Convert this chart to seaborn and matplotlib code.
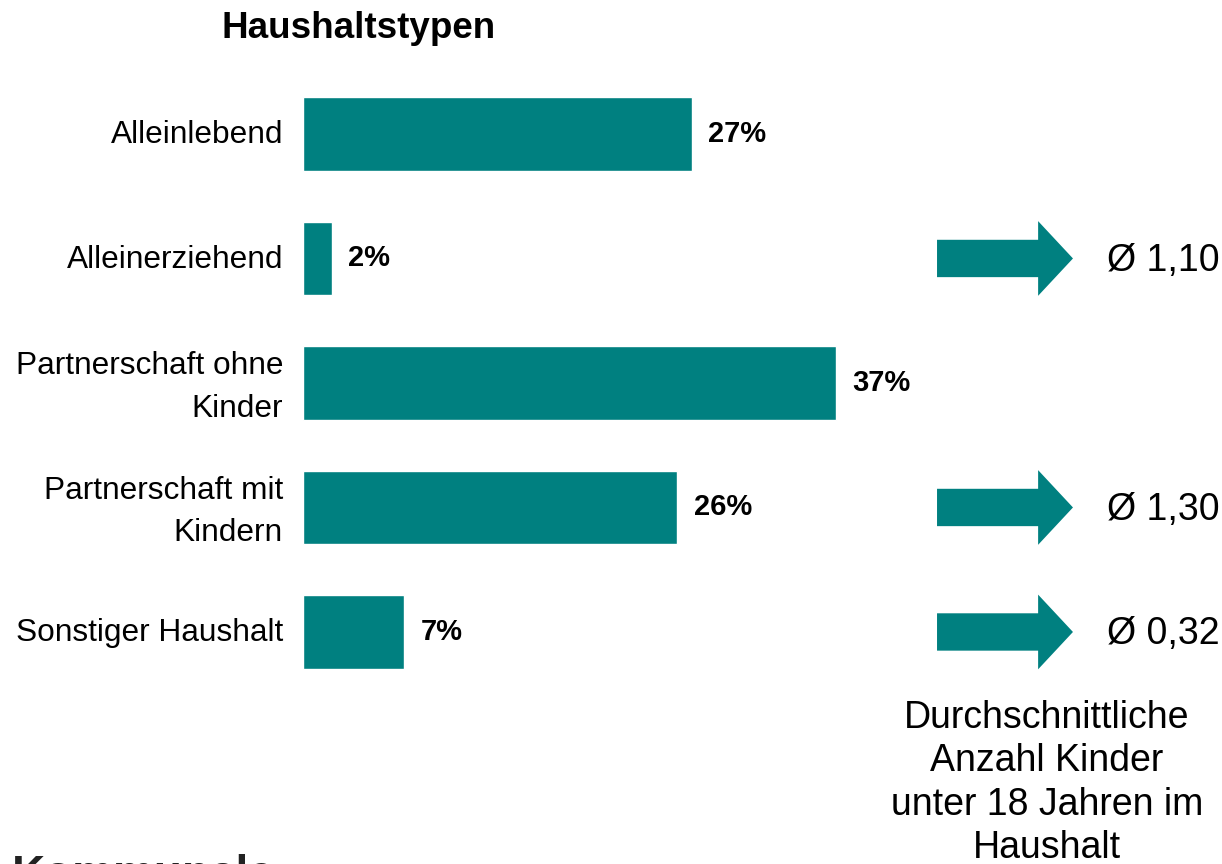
import matplotlib
matplotlib.use("Agg")
import matplotlib.pyplot as plt
from matplotlib.patches import FancyArrow
from matplotlib.transforms import ScaledTranslation
import numpy as np
import pandas as pd
import seaborn as sns

# data
categories = ["Alleinlebend", "Alleinerziehend", "Partnerschaft ohne\nKinder",
              "Partnerschaft mit\nKindern", "Sonstiger Haushalt"]
shares = [27, 2, 37, 26, 7]
avg_categories = ["Alleinerziehend", "Partnerschaft mit\nKindern", "Sonstiger Haushalt"]
avg_labels = ["Ø 1,10", "Ø 1,30", "Ø 0,32"]
title = "Haushaltstypen"
note = "Durchschnittliche\nAnzahl Kinder\nunter 18 Jahren im\nHaushalt"
cut_heading = "Kommunale"

teal = "#008080"

sns.set_theme(style="white")
plt.rcParams["font.family"] = ["Liberation Sans", "DejaVu Sans"]
plt.rcParams["text.color"] = "black"
plt.rcParams["ytick.color"] = "black"

df = pd.DataFrame({"typ": categories, "anteil": shares})

fig = plt.figure(figsize=(12.22, 8.64), dpi=100)
ax = fig.add_axes([303 / 1222, 0.1965, 919 / 1222, 0.7205])

sns.barplot(data=df, x="anteil", y="typ", orient="h", color=teal,
            saturation=1, width=0.59, ax=ax)
ax.set_xlim(0, 919 / 14.4)
ax.set_ylim(4.5, -0.5)
ax.set_xlabel("")
ax.set_ylabel("")
ax.set_xticks([])
sns.despine(ax=ax, left=True, bottom=True)
ax.tick_params(axis="y", length=0, pad=14.4, labelsize=22.8)
for lbl in ax.get_yticklabels():
    lbl.set_linespacing(1.53)
    lbl.set_color("black")
    up = 5 if "\n" in lbl.get_text() else 2
    lbl.set_transform(lbl.get_transform() + ScaledTranslation(0, up / 100, fig.dpi_scale_trans))

ax.bar_label(ax.containers[0], labels=[f"{v}%" for v in shares], padding=12,
             fontsize=21, fontweight="bold", color="black")

# arrows with averages
pos = {c: i for i, c in enumerate(categories)}
for cat, lab in zip(avg_categories, avg_labels):
    y = pos[cat]
    ax.add_patch(FancyArrow(44.03, y, 9.44, 0, width=0.3, head_width=0.6,
                            head_length=2.42, length_includes_head=True,
                            color=teal, lw=0))
    ax.text(55.83, y + 0.02, lab, fontsize=27, va="center", ha="left", color="black")

fig.text(359 / 1222, 1 - 29 / 864, title, fontsize=26.5, fontweight="bold",
         ha="center", va="center")
fig.text(1047 / 1222, 1 - 783 / 864, note, fontsize=27, ha="center",
         va="center", linespacing=1.27, multialignment="center")
fig.text(12 / 1222, 1 - 888 / 864, cut_heading, fontsize=33, fontweight="bold",
         color="#222222", ha="left", va="baseline")

fig.savefig("out.png", dpi=100)
